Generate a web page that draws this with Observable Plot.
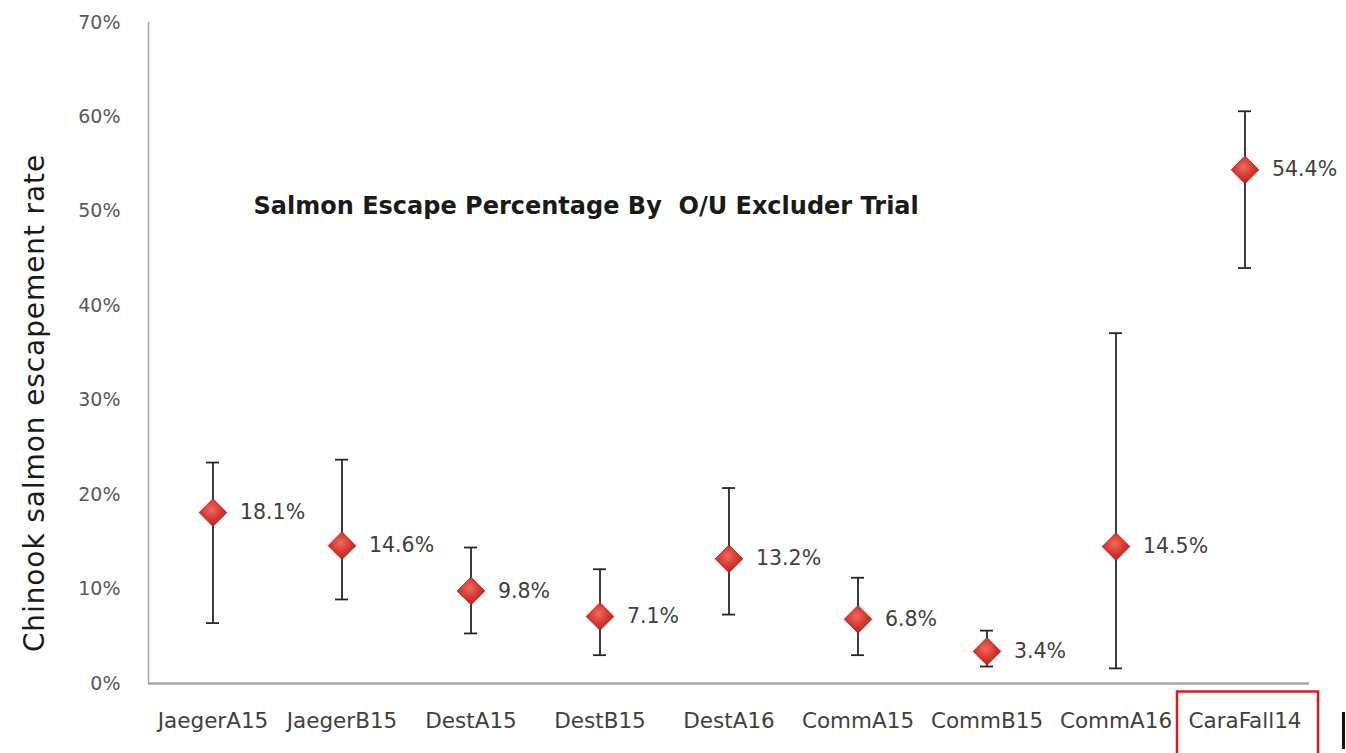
<!DOCTYPE html>
<html>
<head>
<meta charset="utf-8">
<script src="https://cdn.jsdelivr.net/npm/d3@7"></script>
<script src="https://cdn.jsdelivr.net/npm/@observablehq/plot@0.6"></script>
<style>
  html, body { margin: 0; padding: 0; background: #fff; }
  #chart { position: relative; width: 1346px; height: 753px; overflow: hidden; }
  #chart svg text { white-space: pre; }
</style>
</head>
<body>
<div id="chart"></div>
<script>
const trials = ["JaegerA15", "JaegerB15", "DestA15", "DestB15", "DestA16", "CommA15", "CommB15", "CommA16", "CaraFall14"];
const rates = [18.1, 14.6, 9.8, 7.1, 13.2, 6.8, 3.4, 14.5, 54.4];
const lower = [6.4, 8.9, 5.3, 3.0, 7.3, 3.0, 1.8, 1.6, 44.0];
const upper = [23.4, 23.7, 14.4, 12.1, 20.7, 11.2, 5.6, 37.1, 60.6];
const yTicks = [0, 10, 20, 30, 40, 50, 60, 70];
const chartTitle = "Salmon Escape Percentage By  O/U Excluder Trial";
const yLabel = "Chinook salmon escapement rate";
const highlighted = ["CaraFall14"];

const data = trials.map((t, i) => ({trial: t, rate: rates[i], lo: lower[i], hi: upper[i]}));

const FONT = "'DejaVu Sans', sans-serif";

const plot = Plot.plot({
  width: 1346,
  height: 753,
  marginLeft: 148,
  marginRight: 37,
  marginTop: 22,
  marginBottom: 70,
  style: {fontFamily: FONT, background: "#fff"},
  x: {type: "band", domain: trials, padding: 0},
  y: {domain: [0, 70]},
  marks: [
    Plot.axisY({ticks: yTicks, tickSize: 0, tickPadding: 28, tickFormat: d => d + "%", label: null, fontSize: 19, color: "#595959"}),
    Plot.axisX({tickSize: 0, tickPadding: 29, label: null, fontSize: 21.5, color: "#404040"}),
    Plot.frame({anchor: "left", stroke: "#a6a6a6", strokeWidth: 1.5}),
    Plot.ruleY([0], {stroke: "#a6a6a6", strokeWidth: 2.5}),
    Plot.ruleX(data, {x: "trial", y1: "lo", y2: "hi", stroke: "#262626", strokeWidth: 1.8}),
    Plot.tickY(data, {x: "trial", y: "lo", stroke: "#262626", strokeWidth: 1.8, insetLeft: 58, insetRight: 58}),
    Plot.tickY(data, {x: "trial", y: "hi", stroke: "#262626", strokeWidth: 1.8, insetLeft: 58, insetRight: 58}),
    Plot.dot(data, {x: "trial", y: "rate", symbol: "diamond2", r: 12.5, fill: "url(#diamondGrad)", stroke: "#a82a24", strokeWidth: 0.8}),
    Plot.text(data, {x: "trial", y: "rate", text: d => d.rate.toFixed(1) + "%", textAnchor: "start", dx: 27, fontSize: 20.5, fill: "#404040"}),
    Plot.text([chartTitle], {frameAnchor: "top-left", dx: 105, dy: 184, textAnchor: "start", lineAnchor: "middle", fontSize: 24, fontWeight: "bold", fill: "#1a1a1a"}),
    Plot.text([yLabel], {frameAnchor: "left", rotate: -90, textAnchor: "middle", dx: -113, dy: 50, fontSize: 28, fill: "#1a1a1a", style: "letter-spacing:0.9px"}),
    Plot.rect(highlighted, {x: d => d, y1: -0.9, y2: -9, insetLeft: -3, insetRight: -9, fill: "none", stroke: "#e8141b", strokeWidth: 2.5})
  ]
});

d3.select(plot).selectAll("text").filter(function() { return this.textContent === yLabel; }).style("letter-spacing", "0.9px");

const defs = d3.select(plot).insert("defs", ":first-child");
const grad = defs.append("radialGradient").attr("id", "diamondGrad").attr("cx", "45%").attr("cy", "40%").attr("r", "65%");
grad.append("stop").attr("offset", "0%").attr("stop-color", "#f06a5e");
grad.append("stop").attr("offset", "55%").attr("stop-color", "#d6362e");
grad.append("stop").attr("offset", "100%").attr("stop-color", "#a8221c");

const chart = document.getElementById("chart");
chart.appendChild(plot);
const bar = document.createElement("div");
bar.style.cssText = "position:absolute;left:1342px;top:712px;width:3px;height:37px;background:#111;";
chart.appendChild(bar);
</script>
</body>
</html>
